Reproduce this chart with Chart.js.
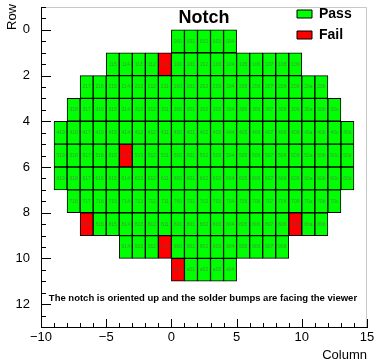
<!DOCTYPE html>
<html>
<head>
<meta charset="utf-8">
<script src="https://cdn.jsdelivr.net/npm/chart.js@4/dist/chart.umd.min.js"></script>
<style>
  body { margin: 0; background: #fff; }
  canvas { display: block; }
</style>
</head>
<body>
<canvas id="myChart" width="376" height="361"></canvas>
<script>
// wafer rows, first and last column of each row
const rows = [0, 1, 2, 3, 4, 5, 6, 7, 8, 9, 10];
const firstCol = [0, -5, -7, -8, -9, -9, -9, -8, -7, -4, 0];
const lastCol = [4, 9, 11, 12, 13, 13, 13, 12, 11, 8, 4];
// cells that failed
const failed = ['111', '514', '817', '809', '911', 'a00'];

const xTicks = [-10, -5, 0, 5, 10, 15];
const yTicks = [0, 2, 4, 6, 8, 10, 12];

const fontFam = '"Liberation Sans", Arial, sans-serif';

// chip id: row digit, then 0+column (hex) or 1+|column| for the left half
function cellId(r, c) {
  let col = c < 0 ? '1' + (-c) : '0' + c.toString(16);
  return r.toString(16) + col;
}

let passData = [];
let failData = [];
rows.forEach((r, i) => {
  for (let c = firstCol[i]; c <= lastCol[i]; c++) {
    let id = cellId(r, c);
    let cell = { x: [c, c + 1], y: r + 0.5, id: id };
    if (failed.includes(id)) failData.push(cell);
    else passData.push(cell);
  }
});

const minus = v => String(v).replace('-', '\u2212');

// inner ticks, frame, title and the notes
const decorations = {
  id: 'decorations',
  afterLayout(chart) {
    // keep the legend in the top right corner of the frame
    chart.legend.left = chart.chartArea.right - 77;
  },
  afterDatasetsDraw(chart) {
    const ctx = chart.ctx;
    ctx.save();
    ctx.font = '5px ' + fontFam;
    ctx.textAlign = 'center';
    ctx.textBaseline = 'middle';
    chart.data.datasets.forEach((ds, di) => {
      chart.getDatasetMeta(di).data.forEach((bar, j) => {
        ctx.fillStyle = di == 0 ? '#3f9a3f' : '#a03030';
        ctx.fillText(ds.data[j].id, (bar.x + bar.base) / 2, bar.y);
      });
    });
    ctx.restore();
  },
  afterDraw(chart) {
    const ctx = chart.ctx;
    const area = chart.chartArea;
    const xs = chart.scales.x, ys = chart.scales.y;
    ctx.save();

    // grey frame top and right
    ctx.strokeStyle = '#c8c8c8';
    ctx.lineWidth = 1;
    ctx.beginPath();
    ctx.moveTo(area.left, area.top + 0.5);
    ctx.lineTo(area.right - 0.5, area.top + 0.5);
    ctx.lineTo(area.right - 0.5, area.bottom);
    ctx.stroke();

    // ticks pointing inwards
    ctx.strokeStyle = '#000';
    ctx.beginPath();
    for (let v = xs.min; v <= xs.max; v += 1) {
      let px = Math.round(xs.getPixelForValue(v)) + 0.5;
      let len = xTicks.includes(v) ? 8 : 4;
      ctx.moveTo(px, area.bottom);
      ctx.lineTo(px, area.bottom - len);
    }
    for (let v = ys.min; v <= ys.max; v += 0.5) {
      let py = Math.round(ys.getPixelForValue(v)) + 0.5;
      let len = yTicks.includes(v) ? 10 : 5;
      ctx.moveTo(area.left, py);
      ctx.lineTo(area.left + len, py);
    }
    ctx.stroke();

    ctx.fillStyle = '#000';
    ctx.textBaseline = 'middle';

    ctx.font = 'bold 18px ' + fontFam;
    ctx.textAlign = 'center';
    ctx.fillText('Notch', (area.left + area.right) / 2, 18);

    ctx.font = 'bold 9.5px ' + fontFam;
    ctx.textAlign = 'left';
    ctx.fillText('The notch is oriented up and the solder bumps are facing the viewer',
      xs.getPixelForValue(-9.4), ys.getPixelForValue(11.73));

    ctx.font = '13px ' + fontFam;
    ctx.translate(12, 4);
    ctx.rotate(-Math.PI / 2);
    ctx.textAlign = 'right';
    ctx.fillText('Row', 0, 0);
    ctx.restore();
  }
};

new Chart(document.getElementById('myChart'), {
  type: 'bar',
  data: {
    datasets: [{
      label: 'Pass',
      data: passData,
      backgroundColor: '#00ff00',
      borderColor: '#000',
      borderWidth: 1,
      borderSkipped: false,
    }, {
      label: 'Fail',
      data: failData,
      backgroundColor: '#ff0000',
      borderColor: '#000',
      borderWidth: 1,
      borderSkipped: false,
    }]
  },
  options: {
    indexAxis: 'y',
    responsive: false,
    animation: false,
    grouped: false,
    barPercentage: 1,
    categoryPercentage: 1,
    layout: { padding: { top: 7, right: 9, left: 0, bottom: 0 } },
    plugins: {
      legend: {
        position: 'chartArea',
        align: 'start',
        labels: {
          boxWidth: 15,
          boxHeight: 8,
          padding: 7,
          color: '#000',
          font: { family: fontFam, size: 14, weight: 'bold' }
        }
      },
      tooltip: { enabled: false }
    },
    scales: {
      x: {
        type: 'linear',
        position: 'bottom',
        min: -10,
        max: 15,
        offset: false,
        grid: { display: false, drawTicks: false },
        border: { display: true, color: '#000', width: 1 },
        afterBuildTicks: s => { s.ticks = xTicks.map(v => ({ value: v })); },
        afterFit: s => { s.height = 34; s.paddingLeft = 0; s.paddingRight = 0; },
        ticks: {
          color: '#000',
          padding: 3,
          maxRotation: 0,
          autoSkip: false,
          font: { family: fontFam, size: 13 },
          callback: v => minus(v)
        },
        title: {
          display: true,
          text: 'Column',
          align: 'end',
          color: '#000',
          padding: { top: 0, bottom: -2 },
          font: { family: fontFam, size: 13 }
        }
      },
      y: {
        type: 'linear',
        reverse: true,
        min: -1,
        max: 13,
        offset: false,
        grid: { display: false, drawTicks: false },
        border: { display: true, color: '#000', width: 1 },
        afterBuildTicks: s => { s.ticks = yTicks.map(v => ({ value: v })); },
        afterFit: s => { s.width = 41; s.paddingTop = 0; s.paddingBottom = 0; },
        ticks: {
          color: '#000',
          padding: 11,
          autoSkip: false,
          font: { family: fontFam, size: 13 },
          callback: v => minus(v)
        }
      }
    }
  },
  plugins: [decorations]
});
</script>
</body>
</html>
